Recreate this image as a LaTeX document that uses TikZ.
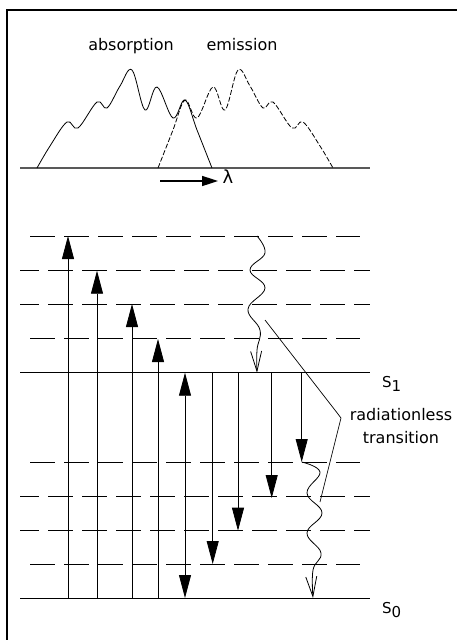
\documentclass[tikz,border=0pt]{standalone}
\usepackage{fontspec}
\setmainfont{DejaVu Sans}
\usetikzlibrary{arrows.meta}
\begin{document}
\begin{tikzpicture}[x=1pt,y=-1pt,
  frame/.style={line width=1.1pt},
  level/.style={line width=0.9pt},
  vibA/.style={line width=0.9pt, dash pattern=on 25pt off 9pt},
  vibB/.style={line width=0.9pt, dash pattern=on 25pt off 9pt, dash phase=6pt},
  trans/.style={line width=0.8pt,-{Triangle[length=23pt,width=12pt]}},
  twoway/.style={line width=0.8pt,{Triangle[length=23pt,width=12pt]}-{Triangle[length=23pt,width=12pt]}},
  wavy/.style={line width=0.8pt,-{Straight Barb[length=20pt,width=11pt]}},
  spec/.style={line width=0.8pt},
  lbl/.style={font=\fontsize{16}{23}\selectfont, inner sep=0pt},
  slbl/.style={font=\fontsize{15}{18}\selectfont, inner sep=0pt, anchor=base west}]
\useasboundingbox (0,0) rectangle (457,640);
% frame
\draw[frame] (7,645) -- (7,10) -- (460,10);

% spectrum
\draw[line width=1.3pt, black!65] (20,168) -- (370,168);
\draw[spec] plot[smooth, tension=0.6] coordinates {(37,168) (50,146) (67,122) (78,128) (97,102) (107,108) (120,86) (132,70) (145,110) (157,87) (173,118) (185,100) (197,130) (212,168)};
\draw[spec, dash pattern=on 5pt off 2pt] plot[smooth, tension=0.6] coordinates {(158,168) (173,130) (185,100) (197,118) (213,87) (225,110) (238,70) (250,86) (263,108) (273,102) (292,128) (303,122) (320,146) (333,168)};
\node[lbl, anchor=base] (abs) at (131,50) {absorption};
\node[lbl, anchor=base] (emi) at (242,50) {emission};
\coordinate (la) at (160,181);
\coordinate (lb) at (218,181);
\draw[line width=1.6pt, -{Triangle[length=16pt,width=10pt]}] (la) -- (lb);
\node[font=\fontsize{18}{18}\selectfont, inner sep=0pt, anchor=north] (lam) at (228,170) {λ};

% levels
\draw[vibA] (30,236) -- (360,236);
\draw[vibB] (20,270.7) -- (370,270.7);
\draw[vibB] (20,304) -- (370,304);
\draw[vibA] (30,338) -- (360,338);
\draw[level] (20,372.7) -- (370,372.7);
\draw[vibA] (30,462) -- (360,462);
\draw[vibB] (20,496.7) -- (370,496.7);
\draw[vibB] (20,530.7) -- (370,530.7);
\draw[vibA] (30,564) -- (360,564);
\draw[level] (20,598) -- (370,598);
\node[slbl] (s1) at (382,387) {S\raisebox{-4pt}{1}};
\node[slbl] (s0) at (382,613) {S\raisebox{-4pt}{0}};

% absorption arrows
\coordinate (a1) at (68,598);  \coordinate (b1) at (68,236);
\coordinate (a2) at (97,598);  \coordinate (b2) at (97,270.7);
\coordinate (a3) at (132,598); \coordinate (b3) at (132,304);
\coordinate (a4) at (158,598); \coordinate (b4) at (158,339);
\coordinate (a5) at (185,598); \coordinate (b5) at (185,372.7);
\draw[trans] (a1) -- (b1);
\draw[trans] (a2) -- (b2);
\draw[trans] (a3) -- (b3);
\draw[trans] (a4) -- (b4);
\draw[twoway] (a5) -- (b5);

% emission arrows
\coordinate (c1) at (212.7,372.7); \coordinate (d1) at (212.7,564);
\coordinate (c2) at (238,372.7);   \coordinate (d2) at (238,530.7);
\coordinate (c3) at (271.7,372.7); \coordinate (d3) at (271.7,498);
\coordinate (c4) at (301.7,372.7); \coordinate (d4) at (301.7,462);
\draw[trans] (c1) -- (d1);
\draw[trans] (c2) -- (d2);
\draw[trans] (c3) -- (d3);
\draw[trans] (c4) -- (d4);

% radiationless (wavy) transitions
\draw[wavy] plot[smooth, tension=0.7] coordinates {(257,236) (265,253) (250,270) (265,288) (248,309) (260,330) (257,350) (257,372.7)};
\draw[wavy] plot[smooth, tension=0.7] coordinates {(d4) (320,472) (307,493) (322,513) (307,533) (321,553) (313,570) (313,598)};

% label
\node[lbl, align=center, anchor=base] (rl) at (401,443) {radiationless\\transition};
\coordinate (p1) at (265,320);
\coordinate (p2) at (338,414);
\coordinate (p3) at (341,418);
\coordinate (p4) at (320,502);
\draw[line width=0.7pt] (p1) -- (p2) -- (p3) -- (p4);
\end{tikzpicture}
\end{document}
